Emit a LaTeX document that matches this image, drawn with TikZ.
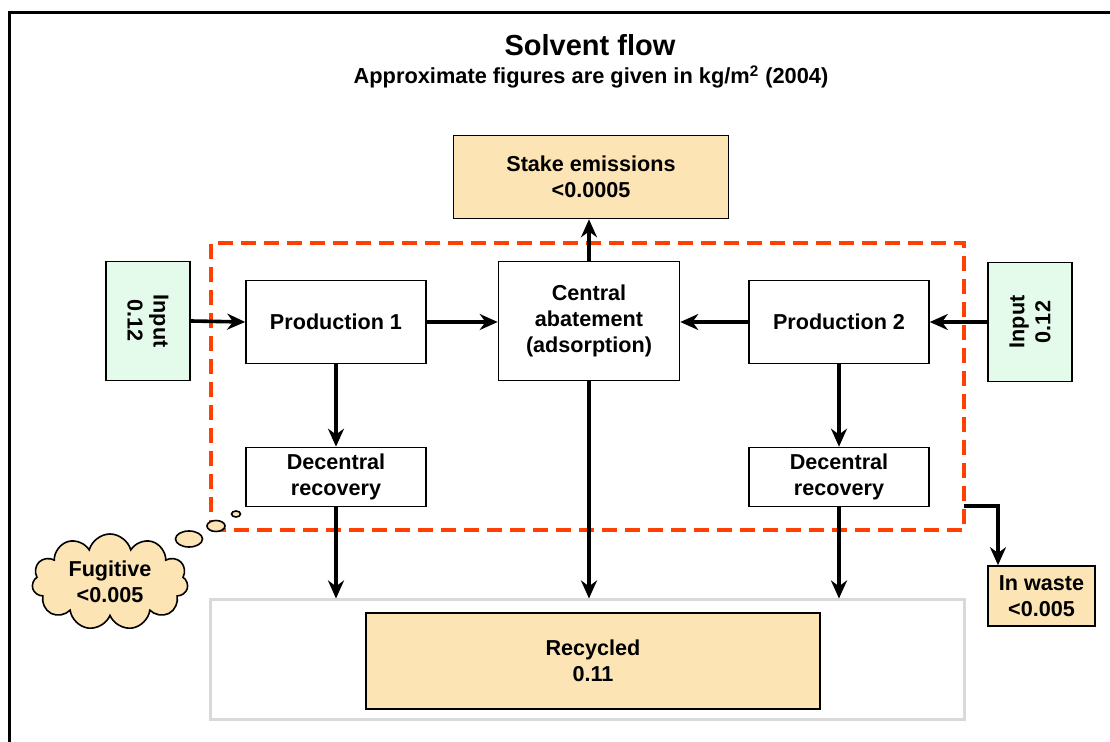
\documentclass[tikz,border=0pt]{standalone}
\usepackage{fontspec}
\setmainfont{Liberation Sans}
\usetikzlibrary{shapes.symbols,arrows.meta}

\definecolor{beige}{RGB}{252,228,180}
\definecolor{mint}{RGB}{228,250,234}
\definecolor{redline}{RGB}{255,64,0}

\begin{document}
\begin{tikzpicture}[x=0.5pt,y=-0.5pt,
  flow/.style={line width=1.8pt,>={Stealth[length=9pt,width=8pt]},->},
  box/.style={draw,line width=0.8pt,fill=white,align=center,inner sep=0pt,
    font=\bfseries\fontsize{10.8}{13}\selectfont},
  result/.style={box,fill=beige},
  inputbox/.style={box,fill=mint,minimum width=59.5pt,minimum height=42pt}]

  \useasboundingbox (0,0) rectangle (1110,742);

% frame
  \draw[line width=1.5pt] (9,742) -- (9,13) -- (1110,13);

% title
  \node[font=\bfseries\fontsize{14.5}{16}\selectfont] (title) at (590,45) {Solvent flow};
  \node[font=\bfseries\fontsize{10.9}{12}\selectfont] (subtitle) at (591,77) {Approximate figures are given in kg/m\textsuperscript{2} (2004)};

% site boundary (red dashed) and recycling area (grey)
  \node[draw=redline,line width=2pt,dash pattern=on 7.5pt off 4pt,inner sep=0pt,
        minimum width=376.5pt,minimum height=143.5pt] (site) at (587.5,386.5) {};
  \node[draw=gray!30,line width=1.5pt,inner sep=0pt,
        minimum width=377pt,minimum height=60pt] (recarea) at (587,660) {};

% boxes
  \node[result,minimum width=137.5pt,minimum height=41.5pt] (stake) at (591,177) {Stake emissions\\<0.0005};
  \node[inputbox,rotate=-90] (input1) at (148,321) {Input\\0.12};
  \node[inputbox,rotate=90]  (input2) at (1030,322) {Input\\0.12};
  \node[box,minimum width=90pt,minimum height=41.5pt] (prod1) at (336,322) {Production 1};
  \node[box,minimum width=90.5pt,minimum height=59.5pt] (central) at (589,321) {Central\\abatement\\(adsorption)};
  \node[box,minimum width=90pt,minimum height=41.5pt] (prod2) at (839,322) {Production 2};
  \node[box,minimum width=90pt,minimum height=29.5pt] (dec1) at (336,477) {Decentral\\recovery};
  \node[box,minimum width=90pt,minimum height=29.5pt] (dec2) at (839,477) {Decentral\\recovery};
  \node[result,minimum width=227pt,minimum height=48pt] (recycled) at (593,661) {Recycled\\0.11};
  \node[result,minimum width=53.5pt,minimum height=30pt] (inwaste) at (1041.5,596) {In waste\\<0.005};

% fugitive cloud with thought bubbles
  \node[cloud,draw,line width=0.8pt,fill=beige,cloud puffs=11,aspect=1.6,inner sep=0pt,
        minimum width=78pt,minimum height=48pt,align=center,
        font=\bfseries\fontsize{10.8}{13}\selectfont] (fugitive) at (110,582) {Fugitive\\<0.005};
  \draw[line width=0.8pt,fill=beige] (189,539) ellipse [x radius=13.5, y radius=8];
  \draw[line width=0.8pt,fill=beige] (216,526) ellipse [x radius=9, y radius=5.5];
  \draw[line width=0.8pt,fill=beige] (236,514) ellipse [x radius=4.5, y radius=3];

% flows
  \draw[flow] (input1.north) -- (prod1.west);
  \draw[flow] (input2.north) -- (prod2.east);
  \draw[flow] (prod1.east) -- (prod1.east -| central.west);
  \draw[flow] (prod2.west) -- (prod2.west -| central.east);
  \draw[flow] (central.north) -- (central.north |- stake.south);
  \draw[flow] (prod1) -- (dec1);
  \draw[flow] (prod2) -- (dec2);
  \draw[flow] (dec1.south) -- (dec1.south |- recarea.north);
  \draw[flow] (central.south) -- (central.south |- recarea.north);
  \draw[flow] (dec2.south) -- (dec2.south |- recarea.north);
  \coordinate (wastestart) at (964,506);
  \coordinate (wastebend) at (998,506);
  \draw[flow] (wastestart) -- (wastebend) -- (wastebend |- inwaste.north);

\end{tikzpicture}
\end{document}
